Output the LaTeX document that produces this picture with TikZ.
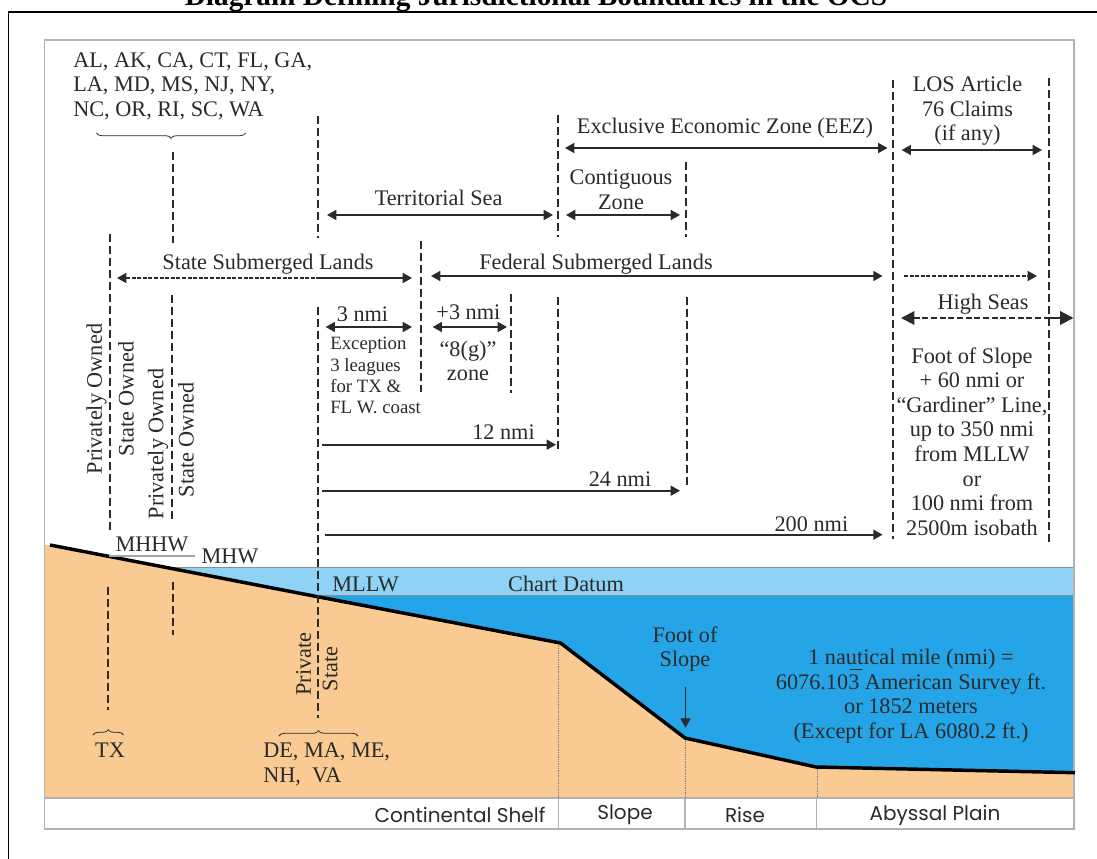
\documentclass[tikz,border=0pt]{standalone}
\usepackage{fontspec}
\setmainfont{Liberation Serif}
\newfontfamily\zonefont{Poppins}
\usetikzlibrary{arrows.meta,decorations.pathreplacing}
\definecolor{landfill}{HTML}{F9CB93}
\definecolor{seafill}{HTML}{25A5E8}
\definecolor{datumfill}{HTML}{8ED2F5}
\definecolor{inkgray}{HTML}{2A2A2A}
\tikzset{
    lbl/.style={text=inkgray, font=\fontsize{16.7}{18.4}\selectfont, inner sep=0pt, align=center},
    lblsmall/.style={lbl, font=\fontsize{14.1}{15.8}\selectfont},
    zonelbl/.style={text=inkgray, font=\zonefont\fontsize{15}{18}\selectfont, inner sep=0pt},
    bound/.style={draw=inkgray, line width=1.35pt, dash pattern=on 6pt off 3pt},
    span/.style={draw=inkgray, line width=1.25pt, {Triangle[length=7pt,width=7.5pt]}-{Triangle[length=7pt,width=7.5pt]}},
    reach/.style={draw=inkgray, line width=1.25pt, -{Triangle[length=7pt,width=7.5pt]}},
    curly/.style={draw=inkgray, line width=0.6pt, decorate, decoration={brace,amplitude=4pt}},
    frameline/.style={draw=black!30, line width=0.8pt}
}
\begin{document}
\begin{tikzpicture}[x=0.75pt, y=-0.75pt]
    \useasboundingbox (0,0) rectangle (1097,859);
    \draw[black, line width=1.2pt] (8.4,859) -- (8.4,12) -- (1097,12);
    \node[font=\bfseries\fontsize{22}{24}\selectfont, inner sep=0pt, anchor=base] (title) at (536,6) {Diagram Defining Jurisdictional Boundaries in the OCS};

    \fill[datumfill] (45,567) rectangle (1074,595);
    \fill[seafill] (45,595) rectangle (1074,798);
    \draw[black!45, line width=0.4pt] (160,567) -- (1074,567);
    \draw[black!45, line width=0.4pt] (317,595) -- (1074,595);
    \fill[landfill] (45,545) -- (50,545) -- (317.5,596.7) -- (560.5,643) -- (685,738) -- (816,767) -- (1074,772.7) -- (1074,798) -- (45,798) -- cycle;
    \draw[frameline] (44.5,40) rectangle (1074,829);
    \draw[frameline] (44.5,798) -- (1074,798);
    \draw[frameline] (558.4,798) -- (558.4,829);
    \draw[frameline] (685,798) -- (685,829);
    \draw[frameline] (816.7,798) -- (816.7,829);
    \draw[black!50, line width=0.3pt, densely dotted] (558.4,643) -- (558.4,798);
    \draw[black!50, line width=0.3pt, densely dotted] (685,738) -- (685,798);
    \draw[black!50, line width=0.3pt, densely dotted] (816.7,767) -- (816.7,798);
    \draw[black, line width=2.6pt] (50,545) -- (317.5,596.7) -- (560.5,643) -- (685,738) -- (816,767) -- (1075,772.7);
    \draw[black!35, line width=0.8pt] (109,556) -- (195,556);

    \draw[bound] (110,234) -- (110,533);
    \draw[bound] (173,152) -- (173,243);
    \draw[bound] (172,295) -- (172,522);
    \draw[bound] (173,582) -- (173,635);
    \draw[bound] (108,587) -- (108,710);
    \draw[bound] (318,116) -- (318,238);
    \draw[bound] (318,307) -- (318,718);
    \draw[bound] (421,241) -- (421,392);
    \draw[bound] (511,294) -- (511,393);
    \draw[bound] (558,115) -- (558,237);
    \draw[bound] (558,297) -- (558,452);
    \draw[bound] (686,162) -- (686,237);
    \draw[bound] (687,297) -- (687,485);
    \draw[bound] (893,80) -- (893,539);
    \draw[bound] (1049,78) -- (1049,543);

    \draw[span] (327,215) -- (553,215);
    \draw[span] (566,215) -- (680,215);
    \draw[span] (565,148) -- (887.5,148);
    \draw[span] (901.6,150) -- (1042,150);
    \draw[span] (431,276) -- (882.6,276);
    \draw[span] (325.6,327) -- (412,327);
    \draw[span] (432.6,327) -- (507,327);
    \draw[reach] (316,278) -- (412,278);
    \draw[draw=inkgray, line width=1.25pt, dash pattern=on 3pt off 1.2pt, {Triangle[length=7pt,width=7.5pt]}-] (117,278) -- (316,278);
    \draw[reach, dash pattern=on 3pt off 1.2pt] (904,276) -- (1037,276);
    \draw[draw=inkgray, line width=1.6pt, dash pattern=on 4.5pt off 2pt, {Triangle[length=10pt,width=10pt]}-] (901,318) -- (1049,318);
    \draw[draw=inkgray, line width=1.6pt, -{Triangle[length=10pt,width=10pt]}] (1049,318) -- (1073.5,318);
    \draw[reach] (322,444.7) -- (556,444.7);
    \draw[reach] (322,490.7) -- (680,490.7);
    \draw[reach] (325,534.7) -- (882.6,534.7);
    \draw[reach] (685.5,687) -- (685.5,727.7);

    \draw[curly] (245.6,133) -- (96.5,133);
    \draw[curly] (93,735) -- (123.5,735);
    \draw[curly] (279,736) -- (358,736);

    \node[lbl, align=left, anchor=west] (stateslist) at (73,86) {AL, AK, CA, CT, FL, GA,\\LA, MD, MS, NJ, NY,\\NC, OR, RI, SC, WA};
    \node[lbl] (terrsea) at (438.6,198) {Territorial Sea};
    \node[lbl] (eez) at (725,128) {Exclusive Economic Zone (EEZ)};
    \node[lbl] (contig) at (621,190) {Contiguous\\Zone};
    \node[lbl] (losclaims) at (967.5,111) {LOS Article\\76 Claims\\(if any)};
    \node[lbl] (statelands) at (268,264) {State Submerged Lands};
    \node[lbl] (fedlands) at (596,264) {Federal Submerged Lands};
    \node[lbl] (highseas) at (983,304) {High Seas};
    \node[lbl] (footrule) at (972,441.5) {Foot of Slope\\+ 60 nmi or\\``Gardiner'' Line,\\up to 350 nmi\\from MLLW\\or\\100 nmi from\\2500m isobath};
    \node[lbl] (threenmi) at (362.5,314) {3 nmi};
    \node[lbl] (plusthree) at (468.4,312.7) {+3 nmi};
    \node[lblsmall, align=left, anchor=west] (except) at (330,375.5) {Exception\\3 leagues\\for TX \&\\FL W. coast};
    \node[lbl] (eightg) at (468,361) {``8(g)''\\zone};
    \node[lbl] (twelve) at (503.5,432) {12 nmi};
    \node[lbl] (twentyfour) at (620,479) {24 nmi};
    \node[lbl] (twohundred) at (811.4,524) {200 nmi};
    \node[lbl, rotate=90] (priv1) at (96.5,399) {Privately Owned};
    \node[lbl, rotate=90] (own1) at (126,399) {State Owned};
    \node[lbl, rotate=90] (priv2) at (158,444) {Privately Owned};
    \node[lbl, rotate=90] (own2) at (186,440) {State Owned};
    \node[lbl, rotate=90] (priv3) at (303.5,664) {Private};
    \node[lbl, rotate=90] (own3) at (330,669) {State};
    \node[lbl] (mhhw) at (152,544) {MHHW};
    \node[lbl] (mhw) at (230,556) {MHW};
    \node[lbl] (mllw) at (365.6,584) {MLLW};
    \node[lbl] (datum) at (566,584) {Chart Datum};
    \node[lbl] (tx) at (110,750) {TX};
    \node[lbl, align=left, anchor=west] (delist) at (263,764.5) {DE, MA, ME,\\NH,~~VA};
    \node[lbl] (footslope) at (685,649) {Foot of\\Slope};
    \node[lbl] (milenote) at (911,696) {1 nautical mile (nmi) =\\6076.103 American Survey ft.\\or 1852 meters\\(Except for LA 6080.2 ft.)};
    \draw[inkgray, line width=0.7pt] (850,669.5) -- (862,669.5);
    \node[zonelbl] (shelf) at (460,815) {Continental Shelf};
    \node[zonelbl] (slope) at (625,815) {Slope};
    \node[zonelbl] (rise) at (745,815) {Rise};
    \node[zonelbl] (plain) at (935,815) {Abyssal Plain};
\end{tikzpicture}
\end{document}
